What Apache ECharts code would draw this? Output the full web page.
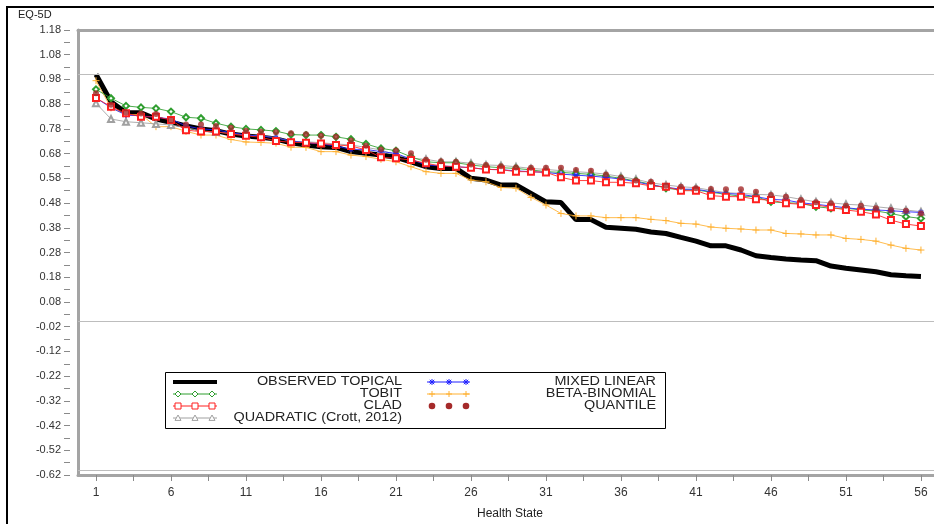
<!DOCTYPE html>
<html><head><meta charset="utf-8">
<script src="https://cdn.jsdelivr.net/npm/echarts@6/dist/echarts.min.js"></script>
<style>html,body{margin:0;padding:0;background:#fff}#c{width:934px;height:524px}</style>
</head><body><div id="c"></div>
<script>
const healthStates = [1,2,3,4,5,6,7,8,9,10,11,12,13,14,15,16,17,18,19,20,21,22,23,24,25,26,27,28,29,30,31,32,33,34,35,36,37,38,39,40,41,42,43,44,45,46,47,48,49,50,51,52,53,54,55,56];
const observedTopical = [1.0,0.89,0.845,0.845,0.82,0.807,0.792,0.78,0.773,0.759,0.751,0.746,0.739,0.724,0.715,0.708,0.705,0.688,0.681,0.674,0.665,0.647,0.627,0.62,0.62,0.58,0.573,0.553,0.553,0.519,0.485,0.482,0.413,0.413,0.382,0.378,0.374,0.363,0.357,0.341,0.326,0.307,0.307,0.29,0.267,0.26,0.254,0.25,0.247,0.225,0.216,0.209,0.202,0.19,0.186,0.183];
const tobit = [0.94,0.904,0.873,0.867,0.863,0.85,0.827,0.823,0.803,0.789,0.78,0.776,0.771,0.757,0.755,0.755,0.748,0.738,0.719,0.701,0.692,0.667,0.647,0.643,0.643,0.634,0.627,0.623,0.62,0.614,0.607,0.604,0.6,0.596,0.589,0.58,0.569,0.556,0.54,0.533,0.533,0.524,0.515,0.508,0.506,0.485,0.481,0.479,0.465,0.459,0.459,0.452,0.448,0.438,0.425,0.418];
const clad = [0.905,0.87,0.843,0.829,0.829,0.816,0.775,0.769,0.769,0.759,0.752,0.746,0.731,0.726,0.724,0.721,0.715,0.711,0.695,0.665,0.661,0.654,0.641,0.63,0.627,0.623,0.616,0.615,0.607,0.607,0.604,0.584,0.571,0.571,0.564,0.564,0.56,0.549,0.546,0.53,0.53,0.51,0.506,0.506,0.495,0.492,0.479,0.475,0.472,0.463,0.452,0.445,0.434,0.411,0.395,0.387];
const quadratic = [0.884,0.82,0.809,0.805,0.8,0.796,0.785,0.772,0.767,0.762,0.755,0.752,0.745,0.73,0.728,0.724,0.719,0.715,0.705,0.695,0.674,0.661,0.657,0.647,0.647,0.641,0.634,0.632,0.627,0.62,0.616,0.611,0.607,0.603,0.597,0.587,0.576,0.562,0.553,0.546,0.542,0.532,0.522,0.519,0.515,0.513,0.506,0.495,0.485,0.481,0.475,0.472,0.465,0.459,0.452,0.445];
const mixedLinear = [0.905,0.866,0.836,0.833,0.827,0.82,0.792,0.78,0.776,0.765,0.755,0.751,0.744,0.731,0.724,0.719,0.711,0.697,0.697,0.688,0.681,0.657,0.634,0.63,0.627,0.623,0.616,0.615,0.61,0.607,0.604,0.597,0.593,0.589,0.584,0.577,0.566,0.553,0.544,0.536,0.536,0.526,0.519,0.515,0.506,0.495,0.492,0.481,0.475,0.468,0.461,0.455,0.452,0.449,0.445,0.442];
const betaBinomial = [0.975,0.865,0.838,0.838,0.789,0.789,0.77,0.755,0.755,0.737,0.727,0.725,0.722,0.706,0.705,0.688,0.688,0.674,0.668,0.657,0.647,0.627,0.607,0.6,0.6,0.573,0.566,0.543,0.54,0.503,0.472,0.438,0.428,0.428,0.421,0.421,0.421,0.414,0.409,0.398,0.395,0.383,0.378,0.375,0.371,0.371,0.357,0.355,0.351,0.351,0.337,0.333,0.326,0.31,0.297,0.29];
const quantile = [0.924,0.878,0.846,0.842,0.84,0.815,0.798,0.798,0.792,0.785,0.772,0.768,0.766,0.762,0.758,0.752,0.748,0.733,0.712,0.697,0.693,0.681,0.655,0.649,0.647,0.636,0.634,0.629,0.624,0.623,0.623,0.623,0.614,0.611,0.596,0.583,0.571,0.566,0.55,0.546,0.54,0.537,0.536,0.536,0.526,0.513,0.506,0.492,0.483,0.479,0.469,0.469,0.459,0.452,0.449,0.438];

const xLabelValues = [1,6,11,16,21,26,31,36,41,46,51,56];
const xTickValues = [1,3.5,6,8.5,11,13.5,16,18.5,21,23.5,26,28.5,31,33.5,36,38.5,41,43.5,46,48.5,51,53.5,56];
const yLabelValues = [-0.62,-0.52,-0.42,-0.32,-0.22,-0.12,-0.02,0.08,0.18,0.28,0.38,0.48,0.58,0.68,0.78,0.88,0.98,1.08,1.18];
const yTickValues = [-0.62,-0.57,-0.52,-0.47,-0.42,-0.37,-0.32,-0.27,-0.22,-0.17,-0.12,-0.07,-0.02,0.03,0.08,0.13,0.18,0.23,0.28,0.33,0.38,0.43,0.48,0.53,0.58,0.63,0.68,0.73,0.78,0.83,0.88,0.93,0.98,1.03,1.08,1.13,1.18];
const refLines = [1, 0, -0.6];

const C = {
  obs: '#000000', tobit: '#2f9e2f', clad: '#ff2020', quad: '#a0a0a0',
  mixed: '#2020ff', beta: '#ffb030', quant: '#a52a2a'
};
const FRAME = '#a4a4a4';
const PLUS = 'path://M0,5L10,5M5,0L5,10';
const ASTER = 'path://M5,0L5,10M0,5L10,5M1.5,1.5L8.5,8.5M8.5,1.5L1.5,8.5';

const pts = arr => healthStates.map((s, i) => [s, arr[i]]);

// legend graphics
const G = [];
function ln(x1,y1,x2,y2,c,w){G.push({type:'line',z:100,shape:{x1,y1,x2,y2},style:{stroke:c,lineWidth:w}});}
function sym(kind,cx,cy,c){
  const r=3;
  if(kind==='diamond') G.push({type:'polygon',z:101,shape:{points:[[cx,cy-r],[cx+r,cy],[cx,cy+r],[cx-r,cy]]},style:{fill:'#fff',stroke:c,lineWidth:1}});
  if(kind==='square') G.push({type:'rect',z:101,shape:{x:cx-r,y:cy-r,width:2*r,height:2*r},style:{fill:'#fff',stroke:c,lineWidth:1}});
  if(kind==='triangle') G.push({type:'polygon',z:101,shape:{points:[[cx,cy-r],[cx+r,cy+r*0.8],[cx-r,cy+r*0.8]]},style:{fill:'#fff',stroke:c,lineWidth:1}});
  if(kind==='circle') G.push({type:'circle',z:101,shape:{cx,cy,r:3.3},style:{fill:c}});
  if(kind==='plus'){ln(cx-r,cy,cx+r,cy,c,1);ln(cx,cy-r,cx,cy+r,c,1);}
  if(kind==='aster'){ln(cx-r,cy,cx+r,cy,c,1);ln(cx,cy-r,cx,cy+r,c,1);ln(cx-2.2,cy-2.2,cx+2.2,cy+2.2,c,1);ln(cx+2.2,cy-2.2,cx-2.2,cy+2.2,c,1);}
}
function txt(t,x,y){G.push({type:'text',z:101,x:x,y:y,scaleX:1.2,style:{text:t,x:0,y:0,fill:'#222',font:'12px "Liberation Sans", Arial, sans-serif',align:'right',verticalAlign:'middle',textAlign:'right',textVerticalAlign:'middle'}});}

G.push({type:'rect',z:1,shape:{x:7,y:7,width:1000,height:600},style:{fill:'none',stroke:'#000',lineWidth:2}});
G.push({type:'text',z:50,x:18,y:15,style:{text:'EQ-5D',x:0,y:0,fill:'#222',font:'11px "Liberation Sans", Arial, sans-serif',align:'left',verticalAlign:'middle',textAlign:'left',textVerticalAlign:'middle'}});
G.push({type:'text',z:50,x:510,y:514,style:{text:'Health State',x:0,y:0,fill:'#222',font:'12px "Liberation Sans", Arial, sans-serif',align:'center',verticalAlign:'middle',textAlign:'center',textVerticalAlign:'middle'}});
G.push({type:'rect',z:99,shape:{x:165.5,y:372.5,width:500,height:56},style:{fill:'#fff',stroke:'#000',lineWidth:1}});

const rows=[382,394,406,418];
const c1=[173,217,[178,195,212]], c2=[427,470,[432,449,466]];
ln(c1[0],rows[0],c1[1],rows[0],C.obs,4); txt('OBSERVED TOPICAL',402,rows[0]);
ln(c1[0],rows[1],c1[1],rows[1],C.tobit,1); c1[2].forEach(x=>sym('diamond',x,rows[1],C.tobit)); txt('TOBIT',402,rows[1]);
ln(c1[0],rows[2],c1[1],rows[2],C.clad,1); c1[2].forEach(x=>sym('square',x,rows[2],C.clad)); txt('CLAD',402,rows[2]);
ln(c1[0],rows[3],c1[1],rows[3],C.quad,1); c1[2].forEach(x=>sym('triangle',x,rows[3],C.quad)); txt('QUADRATIC (Crott, 2012)',402,rows[3]);
ln(c2[0],rows[0],c2[1],rows[0],C.mixed,1); c2[2].forEach(x=>sym('aster',x,rows[0],C.mixed)); txt('MIXED LINEAR',656,rows[0]);
ln(c2[0],rows[1],c2[1],rows[1],C.beta,1); c2[2].forEach(x=>sym('plus',x,rows[1],C.beta)); txt('BETA-BINOMIAL',656,rows[1]);
c2[2].forEach(x=>sym('circle',x,rows[2],C.quant)); txt('QUANTILE',656,rows[2]);

const lineSeries = (name, data, color, symbol, size, z) => ({
  name, type:'line', data: pts(data), z,
  symbol, symbolSize: size, showSymbol: true,
  lineStyle:{color, width:1, opacity:0.85}, itemStyle:{color, borderColor:color, borderWidth:1},
  emphasis:{disabled:true}
});

const X_MIN = -0.2, X_MAX = 56.87, Y_MIN = -0.62, Y_MAX = 1.18;
const option = {
  animation:false,
  backgroundColor:'#fff',
  grid:{left:78, top:30, right:0, height:445, show:false},
  xAxis:[
    {type:'value', min:X_MIN, max:X_MAX, position:'bottom',
      axisLine:{show:true, onZero:false, lineStyle:{color:FRAME, width:3}},
      axisTick:{show:true, length:6, lineStyle:{color:'#8a8a8a'}, customValues:xTickValues},
      axisLabel:{customValues:xLabelValues, color:'#333', fontSize:12, margin:12, fontFamily:'"Liberation Sans", Arial, sans-serif'},
      splitLine:{show:false}},
    {type:'value', min:X_MIN, max:X_MAX, position:'top',
      axisLine:{show:true, onZero:false, lineStyle:{color:FRAME, width:3}},
      axisTick:{show:false}, axisLabel:{show:false}, splitLine:{show:false}}
  ],
  yAxis:[
    {type:'value', min:Y_MIN, max:Y_MAX, offset:8, position:'left',
      axisLine:{show:false, onZero:false},
      axisTick:{show:true, length:6, lineStyle:{color:'#8a8a8a'}, customValues:yTickValues},
      axisLabel:{customValues:yLabelValues, color:'#333', fontSize:11, margin:9, fontFamily:'"Liberation Sans", Arial, sans-serif', formatter:v=>v.toFixed(2)},
      splitLine:{show:false}},
    {type:'value', min:Y_MIN, max:Y_MAX, position:'left', offset:0,
      axisLine:{show:true, onZero:false, lineStyle:{color:FRAME, width:3}},
      axisTick:{show:false}, axisLabel:{show:false}, splitLine:{show:false}}
  ],
  graphic:G,
  series:[
    {name:'OBSERVED TOPICAL', type:'line', data:pts(observedTopical), z:2, showSymbol:false, symbol:'none',
      lineStyle:{color:C.obs, width:5}, itemStyle:{color:C.obs}, emphasis:{disabled:true},
      markLine:{silent:true, symbol:['none','none'], label:{show:false}, lineStyle:{color:'#bdbdbd', width:1, type:'solid'},
        data: refLines.map(v=>({yAxis:v}))}},
    lineSeries('BETA-BINOMIAL', betaBinomial, C.beta, PLUS, 7, 3),
    lineSeries('QUADRATIC (Crott, 2012)', quadratic, C.quad, 'emptyTriangle', 6, 4),
    lineSeries('TOBIT', tobit, C.tobit, 'emptyDiamond', 6, 5),
    lineSeries('MIXED LINEAR', mixedLinear, C.mixed, ASTER, 6, 6),
    lineSeries('CLAD', clad, C.clad, 'emptyRect', 6, 7),
    {name:'QUANTILE', type:'scatter', data:pts(quantile), z:8, symbol:'circle', symbolSize:6,
      itemStyle:{color:C.quant}, emphasis:{disabled:true}}
  ]
};
const chart = echarts.init(document.getElementById('c'), null, {renderer:'canvas'});
chart.setOption(option);
</script></body></html>
